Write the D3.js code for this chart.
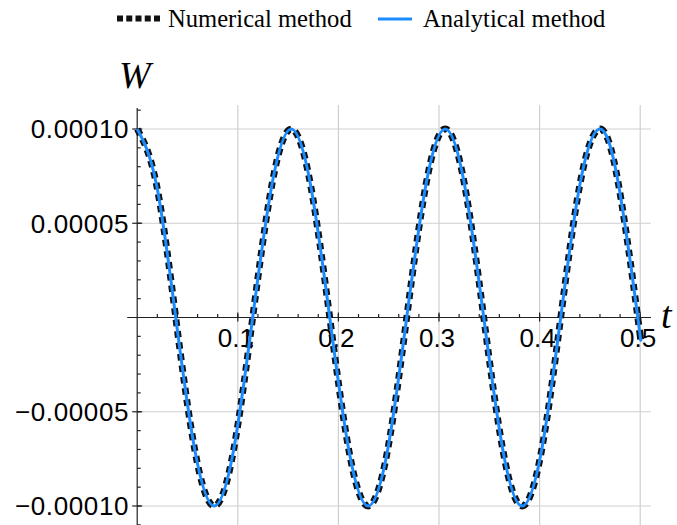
<!DOCTYPE html>
<html>
<head>
<meta charset="utf-8">
<script src="https://cdn.jsdelivr.net/npm/d3@7/dist/d3.min.js"></script>
<style>
  html, body { margin: 0; padding: 0; background: #fff; }
  svg { display: block; }
</style>
</head>
<body>
<svg id="chart" width="677" height="525"></svg>
<script>
// ---- data ----
const seriesNames = ["Numerical method", "Analytical method"];
const tValues = [0, 0.0191, 0.0383, 0.0574, 0.0765, 0.0957, 0.1148, 0.1340, 0.1531,
  0.1722, 0.1914, 0.2105, 0.2296, 0.2488, 0.2679, 0.2871, 0.3062, 0.3253, 0.3445,
  0.3636, 0.3827, 0.4019, 0.4210, 0.4401, 0.4593, 0.4784, 0.4976, 0.5];
const wNumerical = [1.0e-4, 0.707e-4, 0, -0.707e-4, -1.0e-4, -0.707e-4, 0, 0.707e-4, 1.0e-4,
  0.707e-4, 0, -0.707e-4, -1.0e-4, -0.707e-4, 0, 0.707e-4, 1.0e-4, 0.707e-4, 0,
  -0.707e-4, -1.0e-4, -0.707e-4, 0, 0.707e-4, 1.0e-4, 0.707e-4, 0, -0.098e-4];
const wAnalytical = [1.0e-4, 0.707e-4, 0, -0.707e-4, -1.0e-4, -0.707e-4, 0, 0.707e-4, 1.0e-4,
  0.707e-4, 0, -0.707e-4, -1.0e-4, -0.707e-4, 0, 0.707e-4, 1.0e-4, 0.707e-4, 0,
  -0.707e-4, -1.0e-4, -0.707e-4, 0, 0.707e-4, 1.0e-4, 0.707e-4, 0, -0.098e-4];
const xTicks = [0.1, 0.2, 0.3, 0.4, 0.5];
const xTickLabels = ["0.1", "0.2", "0.3", "0.4", "0.5"];
const yTicks = [-0.0001, -0.00005, 0.00005, 0.0001];
const yTickLabels = ["\u22120.00010", "\u22120.00005", "0.00005", "0.00010"];

// ---- layout ----
const svg = d3.select("#chart");
const xLeft = 137.2, xRight = 651;
const yTopGrid = 105, yTopAxis = 108, yBottom = 525;

const x = d3.scaleLinear().domain([0, 0.1]).range([137.2, 237.8]);
const y = d3.scaleLinear().domain([0, 0.0001]).range([317.5, 129]);

const gridColor = "#cfcfcf";
const tickFont = "'Liberation Sans', Arial, sans-serif";

// gridlines
const grid = svg.append("g");
grid.selectAll("line.vg").data(xTicks).join("line")
  .attr("x1", d => x(d)).attr("x2", d => x(d))
  .attr("y1", yTopGrid).attr("y2", yBottom)
  .attr("stroke", gridColor).attr("stroke-width", 1.2);
grid.selectAll("line.hg").data(yTicks).join("line")
  .attr("x1", xLeft).attr("x2", xRight)
  .attr("y1", d => y(d)).attr("y2", d => y(d))
  .attr("stroke", gridColor).attr("stroke-width", 1.2);

// axes
const axes = svg.append("g").attr("stroke", "#222").attr("stroke-width", 1.2);
axes.append("line").attr("x1", xLeft).attr("x2", xLeft).attr("y1", yTopAxis).attr("y2", yBottom);
axes.append("line").attr("x1", xLeft - 10).attr("x2", xRight).attr("y1", y(0)).attr("y2", y(0));

// x minor ticks (every 0.02)
const xMinor = d3.range(1, 26).map(i => i * 0.02).filter(v => x(v) < xRight - 2);
axes.selectAll("line.xm").data(xMinor).join("line")
  .attr("x1", d => x(d)).attr("x2", d => x(d))
  .attr("y1", y(0)).attr("y2", y(0) - 3.5);
axes.selectAll("line.xM").data(xTicks).join("line")
  .attr("x1", d => x(d)).attr("x2", d => x(d))
  .attr("y1", y(0) - 5).attr("y2", y(0) + 4);

// y minor ticks (every 0.00001)
const yMinor = d3.range(-11, 12).map(i => i * 0.00001).filter(v => Math.abs(v) > 1e-9 && y(v) > yTopAxis + 1);
axes.selectAll("line.ym").data(yMinor).join("line")
  .attr("x1", xLeft).attr("x2", xLeft + 3.5)
  .attr("y1", d => y(d)).attr("y2", d => y(d));
axes.selectAll("line.yM").data(yTicks).join("line")
  .attr("x1", xLeft - 5).attr("x2", xLeft + 5)
  .attr("y1", d => y(d)).attr("y2", d => y(d));

// tick labels
svg.append("g").selectAll("text").data(xTicks).join("text")
  .attr("x", d => x(d) - 2).attr("y", 347)
  .attr("text-anchor", "middle")
  .attr("font-family", tickFont).attr("font-size", 26).attr("fill", "#000")
  .text((d, i) => xTickLabels[i]);
svg.append("g").selectAll("text").data(yTicks).join("text")
  .attr("x", 129).attr("y", d => y(d) + 9.3)
  .attr("text-anchor", "end")
  .attr("font-family", tickFont).attr("font-size", 26).attr("letter-spacing", 0.6).attr("fill", "#000")
  .text((d, i) => yTickLabels[i]);

// axis labels
svg.append("text").attr("x", 119).attr("y", 88)
  .attr("font-family", "'Liberation Serif', 'Times New Roman', serif")
  .attr("font-style", "italic").attr("font-size", 38).text("W");
svg.append("text").attr("x", 661).attr("y", 328)
  .attr("font-family", "'Liberation Serif', 'Times New Roman', serif")
  .attr("font-style", "italic").attr("font-size", 38).text("t");

// curves
const line = d3.line().x(d => x(d[0])).y(d => y(d[1])).curve(d3.curveNatural);
const numPts = tValues.map((t, i) => [t, wNumerical[i]]);
const anaPts = tValues.map((t, i) => [t, wAnalytical[i]]);

svg.append("path").attr("d", line(numPts))
  .attr("fill", "none").attr("stroke", "#111").attr("stroke-width", 6.8)
  .attr("stroke-dasharray", "6.5,5");
svg.append("path").attr("d", line(anaPts))
  .attr("fill", "none").attr("stroke", "#1a8cff").attr("stroke-width", 3);

// legend
const legFont = "'Liberation Serif', 'Times New Roman', serif";
const leg = svg.append("g");
leg.append("line").attr("x1", 117).attr("x2", 160).attr("y1", 18.5).attr("y2", 18.5)
  .attr("stroke", "#111").attr("stroke-width", 6).attr("stroke-dasharray", "6,3.25");
leg.append("text").attr("x", 168).attr("y", 27).attr("font-family", legFont)
  .attr("font-size", 24.6).attr("fill", "#000").text(seriesNames[0]);
leg.append("line").attr("x1", 378).attr("x2", 412).attr("y1", 19).attr("y2", 19)
  .attr("stroke", "#1a8cff").attr("stroke-width", 3);
leg.append("text").attr("x", 423).attr("y", 27).attr("font-family", legFont)
  .attr("font-size", 24.6).attr("fill", "#000").text(seriesNames[1]);
</script>
</body>
</html>
